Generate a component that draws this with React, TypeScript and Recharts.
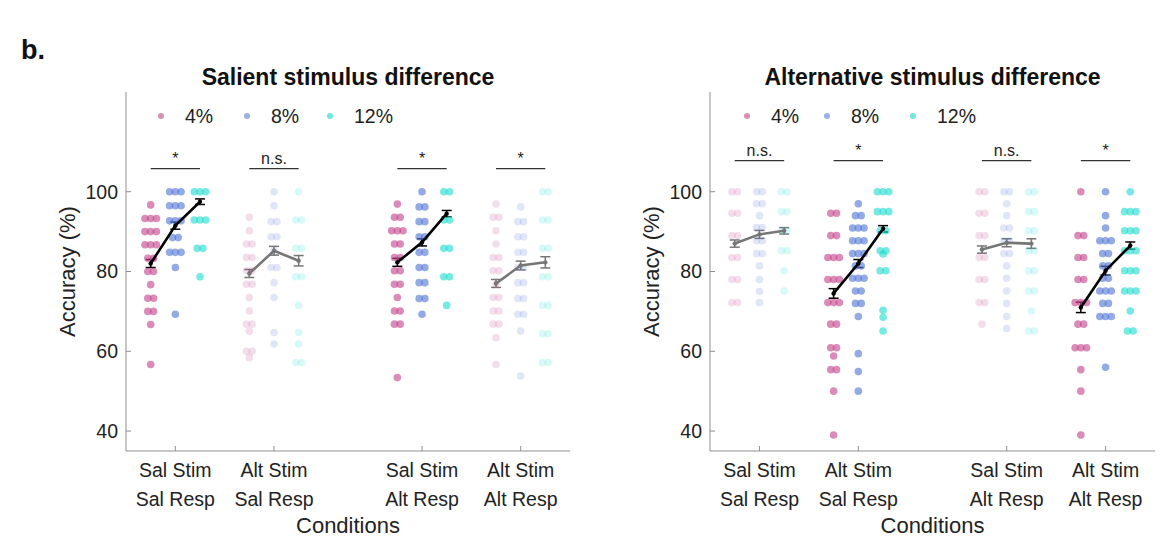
import React from "react";
import { ScatterChart, Scatter, XAxis, YAxis, ErrorBar, ReferenceLine } from "recharts";

// x positions of the four condition groups, and of the three levels inside a group
const GROUP_X = [1, 2, 3.5, 4.5];
const LEVEL_OFFSET = [-0.25, 0, 0.25];
const LEVELS = ["4%", "8%", "12%"];
const DOT_COLORS = ["#c4438a", "#5176d5", "#22dcd0"];
const LEGEND_COLORS = ["#d98fb3", "#9cb0e0", "#72e6dd"];
const CONDITIONS = [
  ["Sal Stim", "Sal Resp"],
  ["Alt Stim", "Sal Resp"],
  ["Sal Stim", "Alt Resp"],
  ["Alt Stim", "Alt Resp"],
];
const Y_TICKS = [40, 60, 80, 100];

// Salient stimulus difference: per group, [4%, 8%, 12%] subject accuracies
const salSalResp = [
  [96.7, 93.3, 93.3, 93.3, 90, 90, 90, 86.7, 86.7, 86.7, 83.3, 83.3, 80, 80, 76.7, 73.3, 73.3, 70, 70, 66.7, 56.7],
  [100, 100, 100, 96.5, 96.5, 96.5, 92.7, 92.7, 92.7, 88.5, 88.5, 84.8, 84.8, 84.8, 81, 69.3],
  [100, 100, 100, 92.9, 92.9, 92.9, 85.8, 85.8, 78.7],
];
const salAltSalResp = [
  [93.6, 90.2, 86.9, 86.9, 83.5, 83.5, 80.2, 80.2, 76.8, 76.8, 73.5, 70.1, 66.8, 66.8, 65, 60, 60, 58.4],
  [100, 96.5, 92.5, 92.5, 88.7, 88.7, 85.2, 81, 81, 77.2, 73.5, 64.7, 61.8],
  [100, 92.9, 92.9, 85.8, 85.8, 78.7, 78.7, 71.5, 64.7, 61.8, 57.2, 57.2],
];
const salSalAltResp = [
  [96.9, 93.6, 93.6, 90.2, 90.2, 90.2, 86.9, 86.9, 83.5, 83.5, 80.2, 80.2, 76.8, 76.8, 73.5, 70.1, 70.1, 66.8, 66.8, 53.4],
  [100, 96.2, 96.2, 92.5, 92.5, 88.7, 88.7, 84.8, 84.8, 81, 81, 77.2, 77.2, 73.2, 73.2, 69.3],
  [100, 100, 92.9, 92.9, 85.8, 85.8, 78.7, 78.7, 71.5],
];
const salAltAltResp = [
  [96.9, 93.6, 93.6, 90.2, 86.9, 83.5, 83.5, 80.2, 80.2, 76.8, 73.5, 73.5, 70.1, 70.1, 66.8, 66.8, 63.4, 56.7],
  [96.2, 92.5, 92.5, 88.7, 88.7, 84.8, 84.8, 81, 81, 77.2, 77.2, 73.2, 73.2, 69.3, 69.3, 65.1, 53.8],
  [100, 100, 92.9, 92.9, 85.8, 85.8, 78.7, 78.7, 71.5, 71.5, 64.4, 64.4, 57.2, 57.2],
];
const salMeans = [
  [82, 91.5, 97.5],
  [79.5, 85.2, 82.7],
  [82.3, 87.3, 94.5],
  [77, 81.5, 82.3],
];
const salErrs = [
  [1.0, 0.9, 0.7],
  [1.0, 1.1, 1.3],
  [1.0, 0.9, 0.8],
  [1.0, 1.1, 1.4],
];
const salSig = ["*", "n.s.", "*", "*"];
const salEmph = [true, false, true, false];

// Alternative stimulus difference
const altSalSalResp = [
  [100, 100, 94.6, 94.6, 89, 89, 83.5, 83.5, 78, 78, 72.2, 72.2],
  [100, 100, 97, 97, 94, 91, 91, 87.7, 87.7, 84.5, 84.5, 81.4, 78, 75, 72.2],
  [100, 100, 95, 95, 90.2, 90.2, 85.2, 85.2, 80.2, 75.1],
];
const altAltSalResp = [
  [94.6, 94.6, 89, 89, 83.5, 83.5, 83.5, 78, 78, 78, 72.2, 72.2, 72.2, 66.8, 66.8, 60.9, 60.9, 58.8, 55.4, 55.4, 50, 39],
  [97, 94, 94, 90.9, 90.9, 90.9, 87.7, 87.7, 87.7, 84.5, 84.5, 84.5, 81.4, 81.4, 78.3, 78.3, 78.3, 75.1, 75.1, 72, 72, 68.7, 59.4, 54.9, 50],
  [100, 100, 100, 95, 95, 95, 90.2, 90.2, 85.2, 85.2, 84.4, 80.2, 80.2, 70.3, 68.5, 65.1],
];
const altSalAltResp = [
  [100, 100, 94.6, 94.6, 89, 89, 83.5, 83.5, 78, 78, 72.2, 72.2, 66.8],
  [100, 100, 97, 94, 90.9, 90.9, 87.7, 87.7, 84.5, 84.5, 81.4, 78.3, 75.1, 72, 68.7, 65.7],
  [100, 100, 95, 95, 90.2, 90.2, 85.2, 85.2, 80.2, 80.2, 75.1, 75.1, 70.1, 65.1, 65.1],
];
const altAltAltResp = [
  [100, 89, 89, 83.5, 83.5, 78, 78, 72.2, 72.2, 72.2, 66.8, 66.8, 60.9, 60.9, 60.9, 55.4, 50, 39],
  [100, 94, 90.9, 87.7, 87.7, 87.7, 84.5, 84.5, 81.4, 81.4, 78.3, 78.3, 75.1, 75.1, 75.1, 72, 72, 68.7, 68.7, 68.7, 56],
  [100, 95, 95, 95, 90.2, 90.2, 90.2, 85.2, 85.2, 85.2, 80.2, 80.2, 80.2, 75.1, 75.1, 75.1, 70.1, 65.1, 65.1],
];
const altMeans = [
  [87, 89.3, 90.2],
  [74.5, 82, 90.7],
  [85.5, 87.2, 87],
  [71, 80.2, 86.5],
];
const altErrs = [
  [0.9, 1.0, 0.8],
  [1.2, 1.0, 0.8],
  [0.9, 1.0, 1.2],
  [1.3, 1.1, 0.9],
];
const altSig = ["n.s.", "*", "n.s.", "*"];
const altEmph = [false, true, false, true];

const PANELS = [
  {
    title: "Salient stimulus difference",
    groups: [salSalResp, salAltSalResp, salSalAltResp, salAltAltResp],
    means: salMeans,
    errs: salErrs,
    sig: salSig,
    emph: salEmph,
    sigY: 105.8,
    left: 0,
    marginLeft: 66,
    marginRight: 13,
    legendDots: [161, 247, 330],
  },
  {
    title: "Alternative stimulus difference",
    groups: [altSalSalResp, altAltSalResp, altSalAltResp, altAltAltResp],
    means: altMeans,
    errs: altErrs,
    sig: altSig,
    emph: altEmph,
    sigY: 107.8,
    left: 583,
    marginLeft: 67,
    marginRight: 11,
    legendDots: [164, 244, 330],
  },
];

const AXIS_COLOR = "#8f8f8f";
const TEXT_COLOR = "#222";
const FONT = "'Liberation Sans', Arial, Helvetica, sans-serif";

// spread identical values sideways, like a swarm plot
function swarm(values: number[], center: number) {
  const counts: Record<string, number> = {};
  values.forEach((v) => (counts[v] = (counts[v] || 0) + 1));
  const seen: Record<string, number> = {};
  return values.map((v) => {
    const n = counts[v];
    const k = (seen[v] = (seen[v] ?? -1) + 1);
    return { x: center + (k - (n - 1) / 2) * 0.058, y: v };
  });
}

const XTick = (props: any) => {
  const { x, y, payload } = props;
  const idx = GROUP_X.indexOf(payload.value);
  const lines = CONDITIONS[idx] || [];
  return (
    <g>
      <line x1={x} x2={x} y1={y} y2={y - 5} stroke={AXIS_COLOR} />
      <text x={x} y={y + 26} textAnchor="middle" fontSize={19.5} fill={TEXT_COLOR}>
        {lines[0]}
      </text>
      <text x={x} y={y + 55} textAnchor="middle" fontSize={19.5} fill={TEXT_COLOR}>
        {lines[1]}
      </text>
    </g>
  );
};

const YTick = (props: any) => {
  const { x, y, payload } = props;
  return (
    <g>
      <line x1={x + 8} x2={x + 13} y1={y} y2={y} stroke={AXIS_COLOR} />
      <text x={x} y={y} dy="0.35em" textAnchor="end" fontSize={19.5} fill={TEXT_COLOR}>
        {payload.value}
      </text>
    </g>
  );
};

function Panel({ cfg }: { cfg: (typeof PANELS)[number] }) {
  const dotData = LEVELS.map((_, li) =>
    cfg.groups.flatMap((g, gi) =>
      swarm(g[li], GROUP_X[gi] + LEVEL_OFFSET[li]).map((p) => ({
        ...p,
        op: cfg.emph[gi] ? 0.62 : 0.18,
      }))
    )
  );
  const plotLeft = cfg.marginLeft + 60;
  const plotRight = 583 - cfg.marginRight;
  const center = (plotLeft + plotRight) / 2;

  return (
    <div style={{ position: "absolute", left: cfg.left, top: 0, width: 583, height: 544 }}>
      <ScatterChart
        width={583}
        height={544}
        margin={{ top: 92, right: cfg.marginRight, bottom: 3, left: cfg.marginLeft }}
      >
        <XAxis
          type="number"
          dataKey="x"
          domain={[0.5, 5]}
          ticks={GROUP_X}
          tick={<XTick />}
          tickSize={0}
          tickMargin={0}
          tickLine={false}
          height={90}
          stroke={AXIS_COLOR}
          interval={0}
          label={{
            value: "Conditions",
            position: "insideBottom",
            offset: 8,
            fontSize: 22,
            fill: TEXT_COLOR,
          }}
        />
        <YAxis
          type="number"
          dataKey="y"
          domain={[35, 125]}
          ticks={Y_TICKS}
          tick={<YTick />}
          tickSize={0}
          tickMargin={8}
          tickLine={false}
          width={60}
          stroke={AXIS_COLOR}
          interval={0}
          label={{
            value: "Accuracy (%)",
            angle: -90,
            position: "insideLeft",
            offset: 1,
            fontSize: 22,
            fill: TEXT_COLOR,
            style: { textAnchor: "middle" },
          }}
        />
        {cfg.sig.map((s, gi) => (
          <ReferenceLine
            key={"sig" + gi}
            segment={[
              { x: GROUP_X[gi] + LEVEL_OFFSET[0], y: cfg.sigY },
              { x: GROUP_X[gi] + LEVEL_OFFSET[2], y: cfg.sigY },
            ]}
            stroke="#333"
            strokeWidth={1.3}
            label={{ value: s, position: "top", offset: 5, fontSize: 16, fill: TEXT_COLOR }}
          />
        ))}
        {dotData.map((d, li) => (
          <Scatter
            key={"dots" + li}
            name={LEVELS[li]}
            data={d}
            isAnimationActive={false}
            shape={(p: any) => (
              <circle cx={p.cx} cy={p.cy} r={3.8} fill={DOT_COLORS[li]} fillOpacity={p.payload.op} />
            )}
          />
        ))}
        {cfg.means.map((m, gi) => {
          const color = cfg.emph[gi] ? "#000" : "#767676";
          const data = m.map((v, li) => ({
            x: GROUP_X[gi] + LEVEL_OFFSET[li],
            y: v,
            e: cfg.errs[gi][li],
          }));
          return (
            <Scatter
              key={"mean" + gi}
              data={data}
              isAnimationActive={false}
              line={{ stroke: color, strokeWidth: 2.6 }}
              shape={(p: any) => <circle cx={p.cx} cy={p.cy} r={2.2} fill={color} />}
            >
              <ErrorBar dataKey="e" direction="y" width={5} stroke={color} strokeWidth={1.5} />
            </Scatter>
          );
        })}
      </ScatterChart>

      <div
        style={{
          position: "absolute",
          left: center - 250,
          width: 500,
          top: 63,
          textAlign: "center",
          fontWeight: "bold",
          fontSize: 23,
          color: "#111",
          lineHeight: "28px",
        }}
      >
        {cfg.title}
      </div>

      {LEVELS.map((lv, li) => (
        <div key={lv} style={{ position: "absolute", left: cfg.legendDots[li] - 3, top: 102 }}>
          <span
            style={{
              position: "absolute",
              left: 0,
              top: 11,
              width: 6,
              height: 6,
              borderRadius: 3,
              background: LEGEND_COLORS[li],
            }}
          />
          <span
            style={{
              position: "absolute",
              left: 27,
              top: 0,
              fontSize: 19.5,
              lineHeight: "28px",
              color: TEXT_COLOR,
              whiteSpace: "nowrap",
            }}
          >
            {lv}
          </span>
        </div>
      ))}
    </div>
  );
}

export default function App() {
  return (
    <div
      style={{
        position: "absolute",
        left: 0,
        top: 0,
        width: 1167,
        height: 544,
        background: "#fff",
        fontFamily: FONT,
        overflow: "hidden",
      }}
    >
      <div
        style={{
          position: "absolute",
          left: 21,
          top: 34,
          fontSize: 27,
          fontWeight: "bold",
          color: "#111",
          lineHeight: "32px",
        }}
      >
        b.
      </div>
      {PANELS.map((p) => (
        <Panel key={p.title} cfg={p} />
      ))}
    </div>
  );
}
